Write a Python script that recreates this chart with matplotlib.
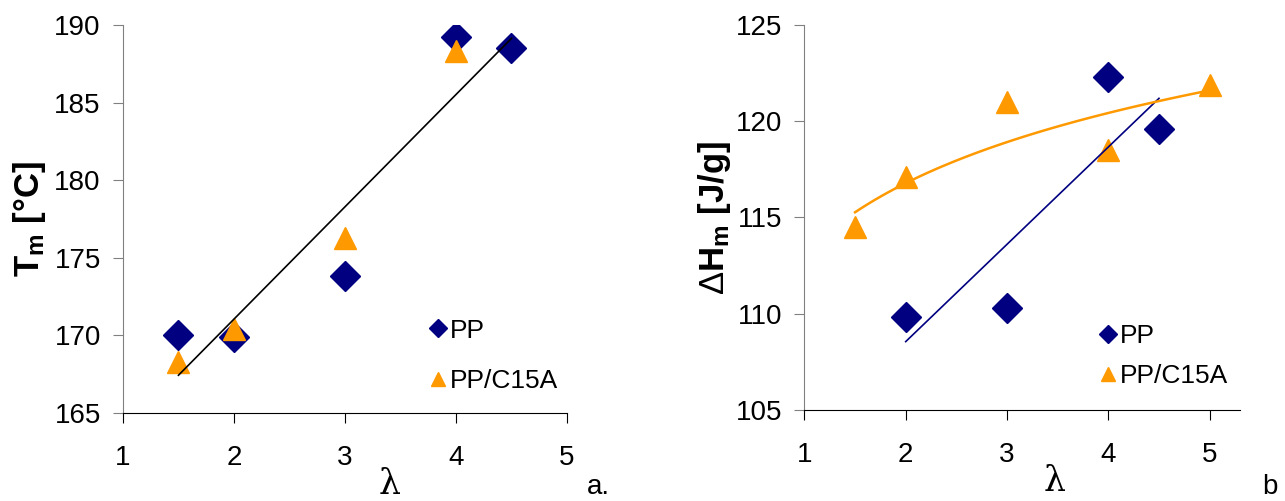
import matplotlib
matplotlib.use("Agg")
import matplotlib.pyplot as plt
import numpy as np

plt.rcParams["font.family"] = ["Liberation Sans", "DejaVu Sans"]
plt.rcParams["mathtext.fontset"] = "custom"
plt.rcParams["mathtext.rm"] = "Liberation Sans"
plt.rcParams["mathtext.bf"] = "Liberation Sans:bold"

NAVY = "#000080"
ORANGE = "#FF9900"

# panel a: melting temperature
lam_pp_a = [1.5, 2, 3, 4, 4.5]
tm_pp = [170.0, 169.9, 173.8, 189.2, 188.5]
lam_c15a_a = [1.5, 2, 3, 4]
tm_c15a = [168.3, 170.4, 176.3, 188.3]

# panel b: melting enthalpy
lam_pp_b = [2, 3, 4, 4.5]
dh_pp = [109.8, 110.3, 122.3, 119.6]
lam_c15a_b = [1.5, 2, 3, 4, 5]
dh_c15a = [114.5, 117.1, 121.0, 118.5, 121.9]

fig = plt.figure(figsize=(12.85, 5.01), dpi=100)
ax1 = fig.add_axes([0.0957, 0.176, 0.3455, 0.774])
ax2 = fig.add_axes([0.626, 0.182, 0.339, 0.768])


def style(ax):
    for s in ["top", "right"]:
        ax.spines[s].set_visible(False)
    ax.spines["left"].set_color("#808080")
    ax.spines["bottom"].set_color("black")
    ax.tick_params(axis="y", direction="out", length=7, color="#808080", labelsize=20, pad=9)
    ax.tick_params(axis="x", direction="out", length=7, color="black", labelsize=20, pad=16)


# panel a
ax1.plot(lam_pp_a, tm_pp, "D", color=NAVY, ms=15, label="PP", zorder=3)
ax1.plot(lam_c15a_a, tm_c15a, "^", color=ORANGE, ms=16, label="PP/C15A", zorder=3)
k, b = np.polyfit(lam_pp_a, tm_pp, 1)
xl = np.array([min(lam_pp_a), max(lam_pp_a)])
ax1.plot(xl, k * xl + b, color="black", lw=1.2, zorder=4)
ax1.set_xlim(1, 5)
ax1.set_ylim(165, 190)
ax1.set_xticks([1, 2, 3, 4, 5])
ax1.set_yticks([165, 170, 175, 180, 185, 190])
style(ax1)
ax1.set_ylabel(r"$\mathbf{T_m}$ [°C]", fontsize=25, fontweight="bold")
ax1.yaxis.set_label_coords(-0.17, 0.5)
ax1.set_xlabel("λ", fontsize=25, family="DejaVu Serif")
ax1.xaxis.set_label_coords(0.60, -0.14)
ax1.legend(loc="lower left", bbox_to_anchor=(0.63, -0.01), frameon=False,
           markerscale=0.6, fontsize=19, handletextpad=0.0, labelspacing=1.0,
           handlelength=0.9)
fig.text(0.457, 0.014, "a.", fontsize=20)

# panel b
ax2.plot(lam_pp_b, dh_pp, "D", color=NAVY, ms=15, label="PP", zorder=3)
ax2.plot(lam_c15a_b, dh_c15a, "^", color=ORANGE, ms=16, label="PP/C15A", zorder=3)
k2, b2 = np.polyfit(lam_pp_b, dh_pp, 1)
xl2 = np.array([min(lam_pp_b), max(lam_pp_b)])
ax2.plot(xl2, k2 * xl2 + b2, color=NAVY, lw=1.2, zorder=4)
k3, b3 = np.polyfit(np.log(lam_c15a_b), dh_c15a, 1)
xc = np.linspace(min(lam_c15a_b), max(lam_c15a_b), 100)
ax2.plot(xc, k3 * np.log(xc) + b3, color=ORANGE, lw=1.8, zorder=4)
ax2.set_xlim(1, 5.3)
ax2.set_ylim(105, 125)
ax2.set_xticks([1, 2, 3, 4, 5])
ax2.set_yticks([105, 110, 115, 120, 125])
style(ax2)
ax2.set_ylabel(r"$\Delta\mathbf{H_m}$ [J/g]", fontsize=25, fontweight="bold")
ax2.yaxis.set_label_coords(-0.165, 0.5)
ax2.set_xlabel("λ", fontsize=25, family="DejaVu Serif")
ax2.xaxis.set_label_coords(0.575, -0.14)
ax2.legend(loc="lower left", bbox_to_anchor=(0.615, -0.005), frameon=False,
           markerscale=0.6, fontsize=19, handletextpad=0.0, labelspacing=0.6,
           handlelength=0.9)
fig.text(0.982, 0.014, "b", fontsize=20)

fig.savefig("out.png", dpi=100)
